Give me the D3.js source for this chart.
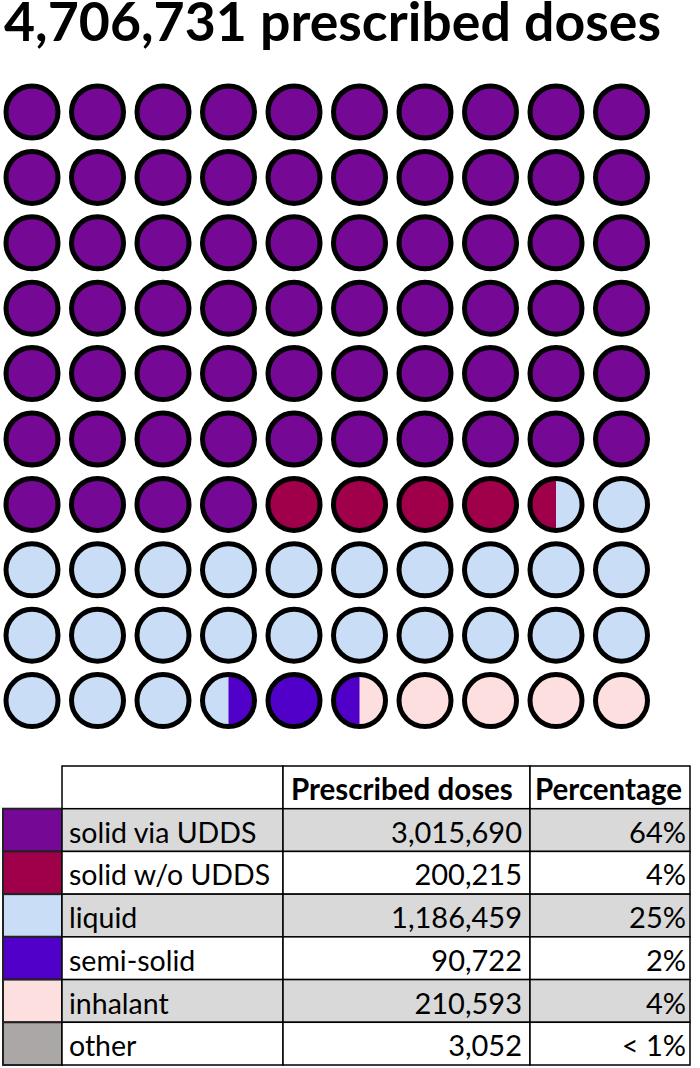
<!DOCTYPE html>
<html>
<head>
<meta charset="utf-8">
<script src="https://cdn.jsdelivr.net/npm/d3@7"></script>
<style>
  body { margin: 0; background: #fff; }
  svg { display: block; font-family: Lato, "Open Sans", sans-serif; }
</style>
</head>
<body>
<svg id="drawing_region"></svg>
<script>
// data
const categories = ['solid via UDDS', 'solid w/o UDDS', 'liquid', 'semi-solid', 'inhalant', 'other'];
const doses = [3015690, 200215, 1186459, 90722, 210593, 3052];
const pctLabels = ['64%', '4%', '25%', '2%', '4%', '< 1%'];
const colors = ['#750894', '#A0004A', '#C9DEF6', '#5000C8', '#FDDFDF', '#ABA7A6'];
const headers = ['', 'Prescribed doses', 'Percentage'];

const W = 700, H = 1068;
const total = d3.sum(doses);

const svg = d3.select('#drawing_region')
    .attr('width', W)
    .attr('height', H);

// title
svg.append('text')
    .attr('x', 4)
    .attr('y', 41)
    .attr('font-size', 53)
    .attr('font-weight', 700)
    .attr('textLength', 657)
    .attr('lengthAdjust', 'spacingAndGlyphs')
    .text(d3.format(',')(total) + ' prescribed doses');

// waffle: 100 circles, each split in two halves, cumulative share rounded to half circles
let cum = 0;
const bounds = doses.map(v => { cum += v; return Math.round(cum / total * 200); });
const halves = d3.range(200).map(h => bounds.findIndex(b => h < b));

const cells = d3.range(100).map(i => ({
    col: i % 10,
    row: Math.floor(i / 10),
    left: halves[2 * i],
    right: halves[2 * i + 1]
}));

const xscale = d3.scaleLinear().domain([0, 9]).range([32, 621.5]);
const yscale = d3.scaleLinear().domain([0, 9]).range([112, 700.6]);
const r = 26;

const arcLeft = d3.arc().innerRadius(0).outerRadius(r).startAngle(Math.PI).endAngle(2 * Math.PI);

const cell = svg.append('g').selectAll('g')
    .data(cells)
    .join('g')
    .attr('transform', d => `translate(${xscale(d.col)},${yscale(d.row)})`);

// whole disc in the right-half colour, left half drawn over it only where it differs
cell.append('circle')
    .attr('r', r)
    .attr('fill', d => colors[d.right]);

cell.filter(d => d.left !== d.right)
    .append('path')
    .attr('d', arcLeft())
    .attr('fill', d => colors[d.left]);

cell.append('circle')
    .attr('r', r)
    .attr('fill', 'none')
    .attr('stroke', '#000')
    .attr('stroke-width', 5);

// table
const colX = [3, 62, 283, 530, 690];
const rowScale = d3.scaleBand()
    .domain(['header'].concat(categories))
    .range([766, 1065]);
const rh = rowScale.bandwidth();
const base = 34;

const table = svg.append('g');

// header cells
table.selectAll('rect.hdr')
    .data(headers)
    .join('rect')
    .attr('class', 'hdr')
    .attr('x', (d, i) => colX[i + 1])
    .attr('y', rowScale('header'))
    .attr('width', (d, i) => colX[i + 2] - colX[i + 1])
    .attr('height', rh)
    .attr('fill', '#fff')
    .attr('stroke', '#000')
    .attr('stroke-width', 1.5);

table.selectAll('text.hdr')
    .data(headers)
    .join('text')
    .attr('class', 'hdr')
    .attr('x', (d, i) => colX[i + 1] + (i === 1 ? 8 : 5))
    .attr('y', rowScale('header') + base)
    .attr('font-size', 29.5)
    .attr('font-weight', 700)
    .text(d => d);

const rows = table.selectAll('g.row')
    .data(categories)
    .join('g')
    .attr('class', 'row')
    .attr('transform', d => `translate(0,${rowScale(d)})`);

// swatch
rows.append('rect')
    .attr('x', colX[0])
    .attr('width', colX[1] - colX[0])
    .attr('height', rh)
    .attr('fill', (d, i) => colors[i])
    .attr('stroke', '#222')
    .attr('stroke-width', 2);

// data cells
[1, 2, 3].forEach(c => {
    rows.append('rect')
        .attr('x', colX[c])
        .attr('width', colX[c + 1] - colX[c])
        .attr('height', rh)
        .attr('fill', (d, i) => i % 2 === 0 ? '#D9D9D9' : '#fff')
        .attr('stroke', '#000')
        .attr('stroke-width', 1.5);
});

rows.append('text')
    .attr('x', colX[1] + 7)
    .attr('y', base)
    .attr('font-size', 28.5)
    .text(d => d);

rows.append('text')
    .attr('x', colX[3] - 8)
    .attr('y', base)
    .attr('text-anchor', 'end')
    .attr('font-size', 29)
    .text((d, i) => d3.format(',')(doses[i]));

rows.append('text')
    .attr('x', colX[4] - 4)
    .attr('y', base)
    .attr('text-anchor', 'end')
    .attr('font-size', 29)
    .text((d, i) => pctLabels[i]);
</script>
</body>
</html>
